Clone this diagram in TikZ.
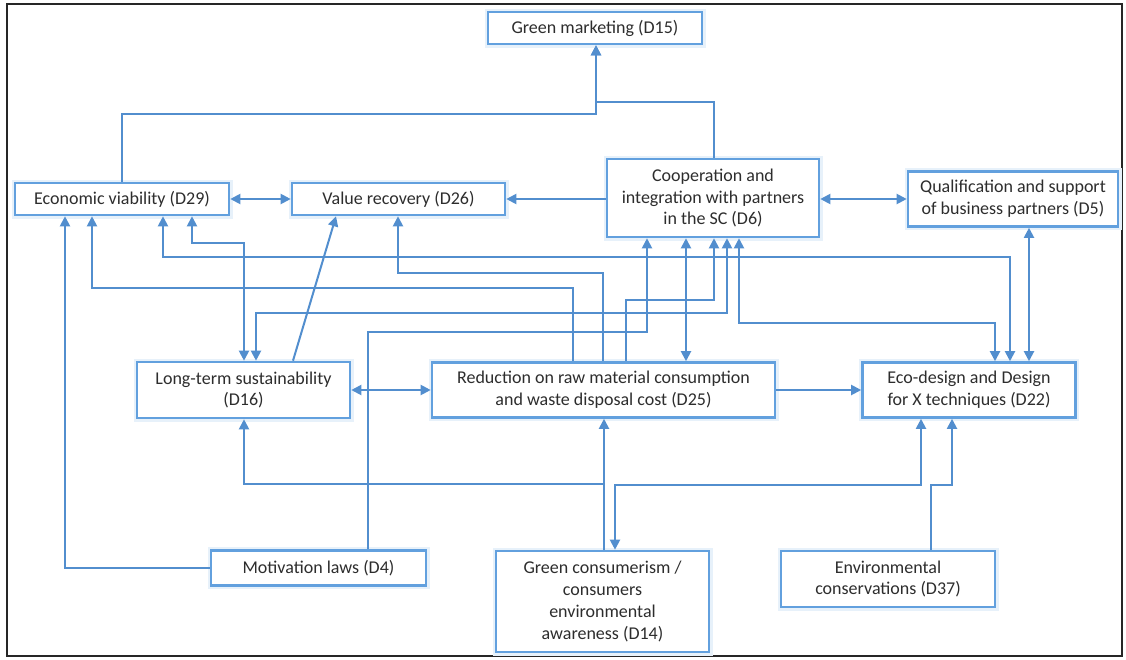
\documentclass[tikz,border=0pt]{standalone}
\usepackage{fontspec}
\setmainfont{Carlito}
\usetikzlibrary{arrows.meta}
\definecolor{lblue}{RGB}{82,142,206}
\definecolor{bblue}{RGB}{98,160,222}
\definecolor{txt}{RGB}{45,45,45}
\begin{document}
\begin{tikzpicture}[x=1pt,y=-1pt,
  box/.style={draw=bblue, line width=2.6pt, fill=white, text=txt, align=center, inner sep=0pt,
    font=\fontsize{18}{21.8}\selectfont, preaction={draw=bblue!15, line width=7pt}},
  arr/.style={draw=lblue, line width=2pt, -{Triangle[length=10pt,width=10pt]}},
  darr/.style={draw=lblue, line width=2pt, {Triangle[length=10pt,width=10pt]}-{Triangle[length=10pt,width=10pt]}}]
\useasboundingbox (0,0) rectangle (1126,659);
\draw[line width=1.5pt, black!85] (7,4) rectangle (1122,656);

% nodes
\node[box, minimum width=214, minimum height=32] (d15) at (595,28) {Green marketing (D15)};
\node[box, minimum width=214, minimum height=32] (d29) at (122,199) {Economic viability (D29)};
\node[box, minimum width=213, minimum height=32] (d26) at (398.5,199) {Value recovery (D26)};
\node[box, minimum width=212, minimum height=78] (d6) at (713,198) {Cooperation and\\integration with partners\\in the SC (D6)};
\node[box, minimum width=210, minimum height=55] (d5) at (1013,199) {Qualification and support\\of business partners (D5)};
\node[box, minimum width=213, minimum height=56] (d16) at (243.5,390) {Long-term sustainability\\(D16)};
\node[box, minimum width=343, minimum height=55] (d25) at (603.5,390) {Reduction on raw material consumption\\and waste disposal cost (D25)};
\node[box, minimum width=213, minimum height=55] (d22) at (969,390) {Eco-design and Design\\for X techniques (D22)};
\node[box, minimum width=215, minimum height=35] (d4) at (318.5,568) {Motivation laws (D4)};
\node[box, minimum width=213, minimum height=101] (d14) at (602.5,601.5) {Green consumerism /\\consumers\\environmental\\awareness (D14)};
\node[box, minimum width=214, minimum height=56] (d37) at (888,579) {Environmental\\conservations (D37)};

% lanes
\foreach \x in {65,92,163,192,244,256,293,336,368,398,573,596,603,604,615,626,647,686,714,727,739,921,931,952,995,1010,1029}
  {\coordinate (v\x) at (\x,0);}
\foreach \y in {102,114,243,257,273,288,300,313,323,332,484,485}
  {\coordinate (h\y) at (0,\y);}

% connectors
\draw[arr] (d29.north) |- (h114 -| v596) -- (d15.south -| v596);
\draw[arr] (d6.north -| v714) |- (h102 -| v596) -- (d15.south -| v596);
\draw[darr] (d29.east) -- (d26.west);
\draw[arr] (d26.east -| d6.west) -- (d26.east);
\draw[darr] (d5.west -| d6.east) -- (d5.west);
\draw[arr] (d4.west) -| (d29.south -| v65);
\draw[arr] (d25.north -| v573) |- (h288 -| v92) -- (d29.south -| v92);
\draw[darr] (d29.south -| v163) |- (h257 -| v1010) -- (d22.north -| v1010);
\draw[darr] (d29.south -| v192) |- (h243 -| v244) -- (d16.north -| v244);
\draw[arr] (d25.north -| v603) |- (h273 -| v398) -- (d26.south -| v398);
\draw[arr] (d16.north -| v293) -- (d26.south -| v336);
\draw[darr] (d16.north -| v256) |- (h313 -| v727) -- (d6.south -| v727);
\draw[arr] (d4.north -| v368) |- (h332 -| v647) -- (d6.south -| v647);
\draw[darr] (d6.south -| v686) -- (d25.north -| v686);
\draw[arr] (d25.north -| v626) |- (h300 -| v714) -- (d6.south -| v714);
\draw[darr] (d6.south -| v739) |- (h323 -| v995) -- (d22.north -| v995);
\draw[darr] (d5.south -| v1029) -- (d22.north -| v1029);
\draw[darr] (d16.east) -- (d25.west);
\draw[arr] (d25.east) -- (d22.west);
\draw[arr] (d14.north -| v604) -- (d25.south -| v604);
\draw[arr] (d14.north -| v604) |- (h484 -| v244) -- (d16.south -| v244);
\draw[darr] (d22.south -| v921) |- (h485 -| v615) -- (d14.north -| v615);
\draw[arr] (d37.north -| v931) |- (h485 -| v952) -- (d22.south -| v952);
\end{tikzpicture}
\end{document}
